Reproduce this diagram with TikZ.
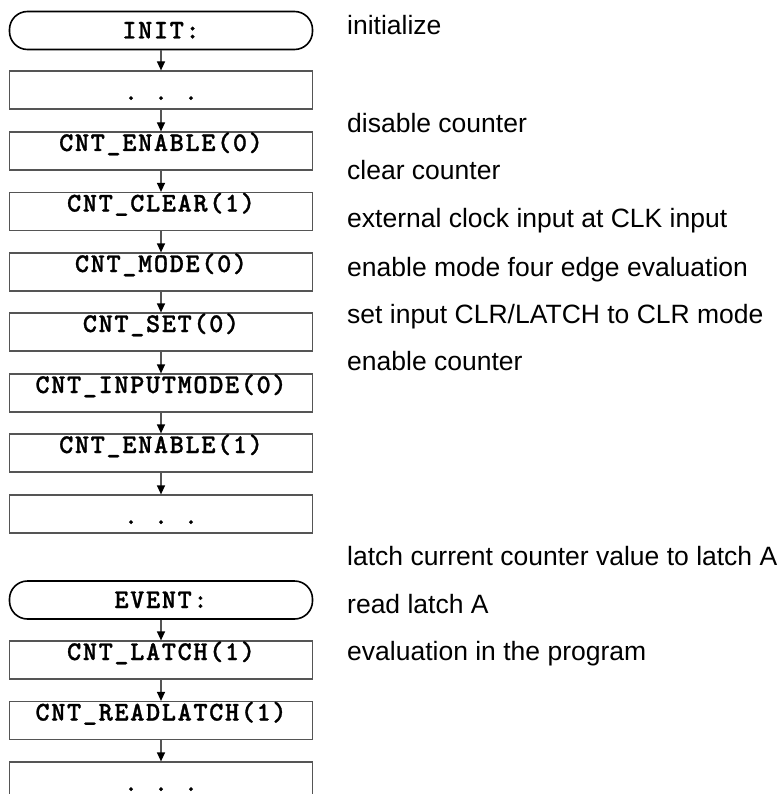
\documentclass[tikz,border=0pt]{standalone}
\usepackage{fontspec}
\setmainfont{Liberation Sans}
\newfontfamily\cmonoface{lmmonolt10-bold.otf}[LetterSpace=6,FakeBold=1]
\usetikzlibrary{arrows.meta}
\definecolor{boxgray}{HTML}{555555}
\definecolor{linegray}{HTML}{555555}
\newcommand\cmonofont{\cmonoface\fontsize{27}{30}\selectfont}
\begin{document}
\begin{tikzpicture}[x=1pt,y=-1pt,
 box/.style={draw=boxgray, line width=1.2pt, minimum width=303pt, minimum height=38pt, inner sep=0pt, text height=10pt, text depth=10pt, font=\cmonofont},
 term/.style={box, draw=black, line width=1.6pt, rounded corners=18pt, text height=18pt, text depth=2pt},
 dotbox/.style={box, text height=20pt, text depth=0pt},
 note/.style={anchor=base west, inner sep=0pt, font=\fontsize{26.5}{30}\selectfont},
 flow/.style={draw=linegray, line width=1.2pt, -{Triangle[length=9pt,width=8pt,color=black]}}]
\useasboundingbox (0,0) rectangle (780,794);
\clip (0,0) rectangle (780,794);
\node[term] (init) at (161,30.5) {INIT:};
\node[dotbox] (d1) at (161,90) {.\ .\ .};
\node[box] (en0) at (161,151) {CNT\_ENABLE(0)};
\node[box] (clr) at (161,211.5) {CNT\_CLEAR(1)};
\node[box] (mode) at (161,272) {CNT\_MODE(0)};
\node[box] (set) at (161,332) {CNT\_SET(0)};
\node[box] (inp) at (161,393) {CNT\_INPUTMODE(0)};
\node[box] (en1) at (161,453) {CNT\_ENABLE(1)};
\node[dotbox] (d2) at (161,514) {.\ .\ .};
\node[term] (ev) at (161,600) {EVENT:};
\node[box] (lat) at (161,660) {CNT\_LATCH(1)};
\node[box] (rl) at (161,720.5) {CNT\_READLATCH(1)};
\node[dotbox] (d3) at (161,781) {.\ .\ .};
\draw[flow] (init) -- (d1);
\draw[flow] (d1) -- (en0);
\draw[flow] (en0) -- (clr);
\draw[flow] (clr) -- (mode);
\draw[flow] (mode) -- (set);
\draw[flow] (set) -- (inp);
\draw[flow] (inp) -- (en1);
\draw[flow] (en1) -- (d2);
\draw[flow] (ev) -- (lat);
\draw[flow] (lat) -- (rl);
\draw[flow] (rl) -- (d3);
\node[note] (n1) at (347,35) {initialize};
\node[note] (n2) at (347,133) {disable counter};
\node[note] (n3) at (347,180) {clear counter};
\node[note] (n4) at (347,228) {external clock input at CLK input};
\node[note] (n5) at (347,276) {enable mode four edge evaluation};
\node[note] (n6) at (347,323) {set input CLR/LATCH to CLR mode};
\node[note] (n7) at (347,370) {enable counter};
\node[note] (n8) at (347,565) {latch current counter value to latch A};
\node[note] (n9) at (347,613) {read latch A};
\node[note] (n10) at (347,660) {evaluation in the program};
\end{tikzpicture}
\end{document}
